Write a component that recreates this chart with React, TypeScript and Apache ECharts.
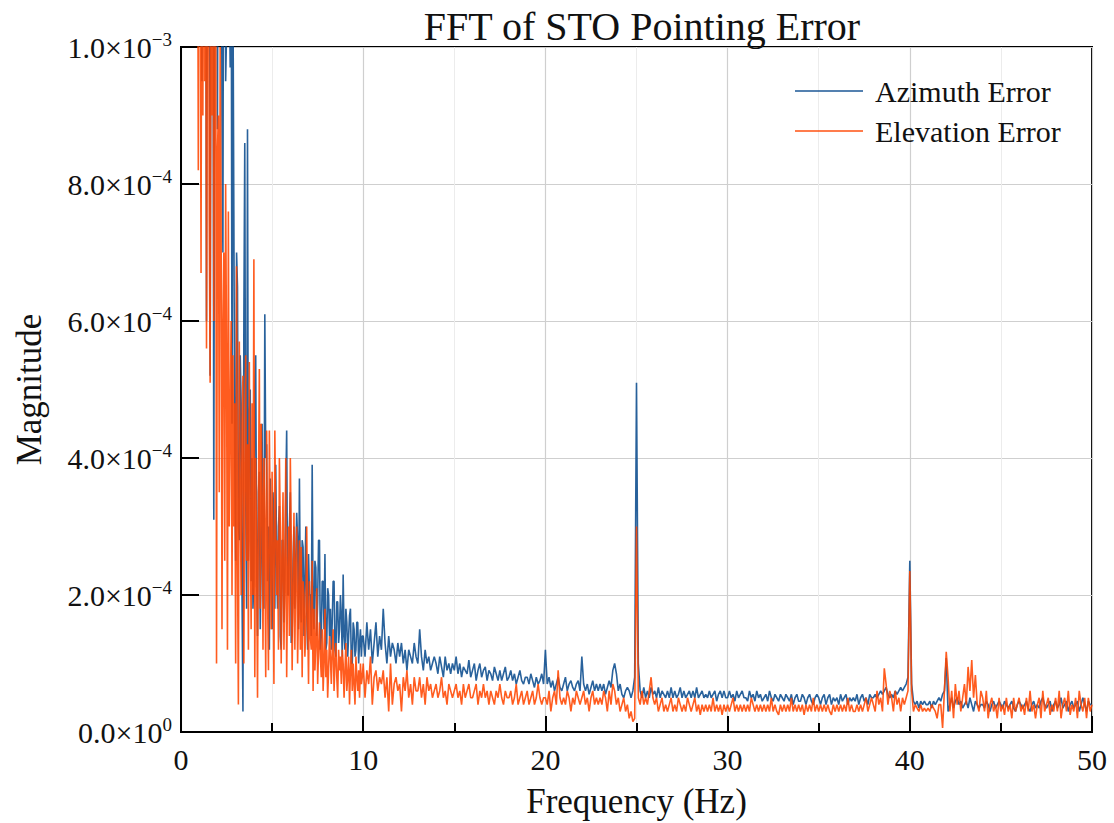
import React, { useEffect, useRef } from "react";
import * as echarts from "echarts";

// FFT bin grids: 0.05 Hz spacing from 0.8 Hz (low band), 0.1 Hz from 10 Hz (rest)
const LOW_START = 0.8;
const LOW_STEP = 0.05;
const HIGH_START = 10.0;
const HIGH_STEP = 0.1;

// Magnitudes in units of 1e-5
const azLow = [
  200, 180, 150, 130, 160, 110, 140, 95, 170, 140,
  120, 150, 60, 130, 105, 150, 52, 120, 115, 140,
  31, 110, 125, 160, 88, 140, 112, 130, 140, 90,
  70, 150, 135, 95, 102, 160, 150, 110, 97, 130,
  45, 110, 76, 40, 25, 70, 65, 30, 28, 55,
  48, 20, 3, 60, 86, 35, 18, 88, 25, 45,
  50, 22, 40, 18, 22, 50, 55, 25, 14, 35,
  38, 15, 25, 45, 20, 18, 61, 40, 42, 22,
  30, 12, 37, 25, 15, 35, 30, 18, 39, 25,
  18, 30, 33, 14, 12, 28, 28, 16, 22, 35,
  44, 20, 20, 30, 35, 13, 14, 25, 30, 18,
  25, 32, 28, 15, 37, 20, 16, 28, 27, 14,
  22, 30, 18, 12, 26, 20, 20, 14, 39, 18,
  15, 25, 24, 14, 19, 28, 28, 12, 14, 22,
  22, 15, 26, 12, 13, 21, 20, 14, 18, 12,
  16, 22, 22, 12, 11, 19, 19, 13, 15, 20,
  17, 11, 23, 14, 12, 18, 16, 11, 14, 17,
  18, 10, 10, 16, 15, 11, 12, 16, 16, 10,
  13, 15, 11, 14,
];
const azMid = [
  14, 11, 16, 12, 15, 10, 13, 16, 11, 14,
  12, 18, 13, 10, 14, 11, 13, 12, 10, 13,
  11, 13, 10, 12, 9, 12, 11, 10, 13, 11,
  10, 15, 11, 9, 12, 10, 11, 9, 10, 11,
  10, 8.5, 11, 9.5, 8, 11, 9, 10, 8.5, 10,
  9, 11, 8.5, 10, 8, 9.5, 9, 8.5, 10.5, 8,
  9, 10, 7.5, 9, 10, 8, 9, 9.5, 7.5, 9,
  8.5, 7.5, 9.5, 8.5, 7.5, 9, 7.5, 8.5, 9.5, 7.5,
  8, 9, 7.5, 8.5, 7, 8, 9, 7.5, 7, 8,
  8, 7, 8.5, 7.5, 6.5, 8, 7, 7.5, 8.5, 7,
  12, 7, 8, 6.5, 7.5, 6, 7, 8, 6.5, 6,
  7, 8, 6, 7, 7.5, 6.5, 6, 7, 7.5, 6,
  11, 7, 6, 7, 5.5, 6.5, 7.5, 6, 7, 6,
  7, 6, 7, 5.5, 6.5, 7.5, 6.5, 9, 10, 8.5,
  6, 7, 5.5, 5, 6, 6.5, 6, 5, 6, 8,
  51, 10, 6, 5, 6.5, 5, 6, 5, 6.5, 5.5,
  6, 5, 6.5, 5, 6, 5.5, 5, 6, 5, 6.5,
  5, 6, 5, 5.5, 6.5, 5, 6, 5, 5.5, 6,
  5, 6, 5, 6.5, 5, 5.5, 6, 5, 5.5, 5,
  6, 5, 5.5, 6, 4.5, 5.5, 6, 5, 6, 5,
];
const azHigh = [
  5, 6, 5, 5.5, 4.5, 6, 5, 5.5, 6, 5,
  5, 4.5, 6, 5, 5.5, 4.5, 6, 5, 5.5, 4.5,
  5, 5.5, 4.5, 6, 5, 4.5, 5.5, 5, 4.5, 5.5,
  5, 4.5, 5.5, 5, 4.5, 5.5, 4, 5, 5.5, 4.5,
  4.5, 5.5, 5, 4, 5, 5.5, 4.5, 4, 5, 5.5,
  5, 4, 5, 5.5, 4, 5, 5.5, 4, 5, 4.5,
  5, 4, 5.5, 4.5, 5, 5.5, 4, 5, 4.5, 5,
  4.5, 5.5, 4, 5, 5.5, 4.5, 5, 4, 5.5, 5,
  5, 5.5, 5, 5.5, 6, 5.5, 6, 6.5, 5.5, 5,
  5.5, 5, 6, 5.5, 6, 6.5, 6, 6.5, 7, 8,
  25, 7, 4.5, 4, 4.5, 3.5, 4.5, 4, 4.5, 4,
  4, 4.5, 3.5, 4.5, 4, 4.5, 5, 4.5, 5.5, 6,
  10.8, 3, 4, 5, 3.5, 4.5, 5, 4, 4.5, 3.5,
  4, 4.5, 3.5, 5, 4, 3, 4.5, 4, 3.5, 4,
  4, 3.5, 4.5, 4, 3, 4, 4.5, 3.5, 4, 4.5,
  4, 3.5, 4.5, 4, 3.5, 4, 4.5, 3.5, 3, 4,
  4.5, 4, 3.5, 4, 4.5, 3.5, 3, 4, 4.5, 3.5,
  4, 3.5, 4.5, 5, 4, 3.5, 4, 4.5, 3, 4,
  4.5, 3.5, 4, 5, 3.5, 4, 4.5, 3, 4, 4.5,
  3.5, 4, 4.5, 3, 4, 5, 4, 3, 4.5, 4,
  4,
];

const elLow = [
  190, 170, 140, 82, 150, 120, 67, 140, 90, 160,
  95, 130, 56, 110, 140, 75, 51, 120, 90, 130,
  60, 110, 120, 10, 85, 90, 35, 100, 76, 15,
  60, 70, 25, 80, 55, 12, 76, 30, 45, 60,
  20, 55, 30, 48, 10, 68, 25, 4, 57, 35,
  20, 45, 52, 10, 38, 55, 25, 42, 12, 54,
  30, 15, 48, 20, 69, 8, 40, 25, 5, 35,
  53, 18, 45, 35, 12, 40, 30, 8, 44, 20,
  9, 44, 30, 15, 38, 25, 7, 44, 30, 20,
  28, 12, 40, 30, 10, 25, 35, 12, 22, 40,
  8, 22, 30, 14, 40, 28, 9, 20, 32, 12,
  24, 30, 10, 18, 28, 12, 27, 8, 22, 20,
  11, 15, 30, 17, 7, 22, 14, 12, 25, 6,
  18, 9, 13, 21, 7, 12, 16, 11, 8, 15,
  6, 10, 18, 8, 12, 5, 9, 14, 11, 7,
  12, 15, 6, 10, 13, 8, 5, 12, 9, 11,
  7, 12, 10, 5, 9, 13, 6, 8, 11, 4,
  9, 12, 6, 10, 7, 4, 11, 8, 6, 9,
  5, 10, 7, 8,
];
const elMid = [
  10, 5, 9, 7, 11, 4, 8, 9, 6, 8,
  7, 9, 5, 8, 3, 10, 4, 7, 8, 6,
  7, 3, 8, 6, 9, 5, 7, 4, 8, 6,
  6, 8, 5, 7, 4, 8, 6, 7, 5, 6,
  7, 5, 6, 8, 5, 6, 4, 7, 6, 5,
  6, 7, 5, 6, 4, 7, 5, 6, 7, 5,
  5, 6, 7, 4, 6, 5, 7, 5, 6, 4,
  6, 5, 4, 6, 5, 7, 5, 4, 6, 5,
  5, 6, 4, 5, 7, 4, 5, 6, 4, 5,
  6, 4, 5, 6, 4, 5, 7, 5, 4, 5,
  5, 4, 6, 3, 5, 6, 4, 9, 5, 4,
  5, 4, 6, 5, 3, 5, 4, 6, 5, 4,
  5, 6, 4, 5, 3, 5, 6, 4, 5, 4,
  5, 4, 6, 5, 3, 6, 4, 7, 6, 4,
  5, 3, 4, 5, 3, 4, 2, 3, 1.5, 2,
  30, 5, 4, 6, 4, 5, 4, 6, 8, 5,
  4, 5, 3, 4, 5, 3, 4, 3, 4, 5,
  3, 4, 3, 5, 4, 3, 4, 3, 5, 4,
  3, 4, 5, 3, 4, 2.5, 4, 3, 4, 3,
  4, 3, 5, 3, 4, 3, 4, 2.5, 4, 3,
];
const elHigh = [
  4, 3, 4, 5, 3, 4, 3, 4, 3, 4,
  3, 4, 3, 5, 4, 3, 4, 3, 4, 3,
  4, 3, 4, 3, 5, 3, 4, 3, 2.5, 4,
  3, 4, 3, 4, 3, 5, 3, 4, 3, 4,
  3, 4, 2.5, 4, 3, 4, 3, 5, 3, 4,
  3, 4, 3, 4, 3, 4, 3, 2.5, 4, 3,
  4, 3, 4, 3, 4, 3, 5, 3, 4, 3,
  3, 4, 3, 4, 3, 4, 5, 3, 4, 5,
  4, 3, 6, 4, 5, 3, 9.3, 7, 4, 6,
  5, 3, 6, 4, 5, 3, 5, 4, 5, 6,
  23.5, 6, 3, 4, 3.5, 3, 4, 3, 3.5, 3,
  3.5, 3, 4, 3.5, 3, 2, 4, 4, 0.6, 6,
  11.7, 8, 3, 6, 2, 7, 4, 6, 3, 5,
  7, 4, 9.5, 6, 10.5, 5, 8.3, 4, 3, 6,
  5, 3, 6, 2, 4, 5, 3, 4, 2, 5,
  3, 4, 2.5, 5, 3, 4, 2, 5, 3, 4,
  5, 3, 4, 2.5, 5, 3, 6, 3, 4, 2,
  4, 5, 2, 6, 3, 4, 5, 2.5, 4, 3,
  5, 3, 6, 2, 4, 5, 3, 6, 2.5, 4,
  3, 5, 2, 6, 4, 3, 5, 2, 5, 3,
  4,
];

const UNIT = 1e-5;

function buildSeries(low: number[], rest: number[]) {
  const a = low.map((v, i) => [+(LOW_START + i * LOW_STEP).toFixed(3), v * UNIT]);
  const b = rest.map((v, i) => [+(HIGH_START + i * HIGH_STEP).toFixed(3), v * UNIT]);
  return [...a, ...b];
}

const azimuthData = buildSeries(azLow, [...azMid, ...azHigh]);
const elevationData = buildSeries(elLow, [...elMid, ...elHigh]);

const FONT = "'Liberation Serif', 'Times New Roman', serif";

function yLabel(v: number): string {
  if (v === 0) return "{a|0.0×10}{b|0}";
  const exp = Math.floor(Math.log10(v) + 1e-9);
  const mant = v / Math.pow(10, exp);
  return `{a|${mant.toFixed(1)}×10}{b|−${-exp}}`;
}

export default function App() {
  const ref = useRef<HTMLDivElement>(null);
  useEffect(() => {
    document.body.style.margin = "0";
    if (!ref.current) return;
    const chart = echarts.init(ref.current, undefined, { renderer: "svg" });
    chart.setOption({
      animation: false,
      backgroundColor: "#ffffff",
      title: {
        text: "FFT of STO Pointing Error",
        left: 637,
        textAlign: "center",
        top: 1,
        textStyle: { fontFamily: FONT, fontSize: 40, fontWeight: "normal", color: "#111" },
      },
      legend: {
        orient: "vertical",
        left: 790,
        top: 71,
        icon: "rect",
        itemWidth: 68,
        itemHeight: 2,
        itemGap: 10,
        itemStyle: { opacity: 0.7 },
        textStyle: { fontFamily: FONT, fontSize: 30, color: "#111", padding: [0, 0, 0, 7] },
        data: ["Azimuth Error", "Elevation Error"],
      },
      grid: {
        left: 181,
        right: 22,
        top: 47,
        bottom: 91,
        show: true,
        borderColor: "#000",
        borderWidth: 2,
        backgroundColor: "transparent",
        outerBoundsMode: "none",
        containLabel: false,
      },
      xAxis: {
        type: "value",
        min: 0,
        max: 50,
        interval: 10,
        name: "Frequency (Hz)",
        nameLocation: "middle",
        nameGap: 52,
        nameTextStyle: { fontFamily: FONT, fontSize: 35, color: "#111" },
        axisLine: { show: true, lineStyle: { color: "#000", width: 2 } },
        axisTick: { show: true, inside: true, length: 16, lineStyle: { color: "#000", width: 2 } },
        minorTick: { show: true, splitNumber: 2, length: 9, lineStyle: { color: "#000", width: 2 } },
        axisLabel: { fontFamily: FONT, fontSize: 30, color: "#111", margin: 12 },
        splitLine: { show: true, lineStyle: { color: "#cfcfcf", width: 1.2 } },
        minorSplitLine: { show: true, lineStyle: { color: "#ececec", width: 1 } },
      },
      yAxis: {
        type: "value",
        min: 0,
        max: 0.001,
        interval: 0.0002,
        name: "Magnitude",
        nameLocation: "middle",
        nameGap: 134,
        nameRotate: 90,
        nameTextStyle: { fontFamily: FONT, fontSize: 35, color: "#111" },
        axisLine: { show: true, lineStyle: { color: "#000", width: 2 } },
        axisTick: { show: true, inside: true, length: 18, lineStyle: { color: "#000", width: 2 } },
        axisLabel: {
          margin: 9,
          formatter: yLabel,
          rich: {
            a: { fontFamily: FONT, fontSize: 30, color: "#111", lineHeight: 34 },
            b: { fontFamily: FONT, fontSize: 19, color: "#111", verticalAlign: "top", lineHeight: 18 },
          },
        },
        splitLine: { show: true, lineStyle: { color: "#cfcfcf", width: 1.2 } },
      },
      series: [
        {
          name: "Azimuth Error",
          type: "line",
          data: azimuthData,
          symbol: "none",
          clip: true,
          lineStyle: { color: "#0b4c8e", width: 1.6, opacity: 0.88 },
          itemStyle: { color: "#0b4c8e" },
        },
        {
          name: "Elevation Error",
          type: "line",
          data: elevationData,
          symbol: "none",
          clip: true,
          lineStyle: { color: "#ff4500", width: 1.6, opacity: 0.88 },
          itemStyle: { color: "#ff4500" },
        },
      ],
    });
    return () => chart.dispose();
  }, []);
  return <div ref={ref} style={{ width: 1114, height: 823 }} />;
}
